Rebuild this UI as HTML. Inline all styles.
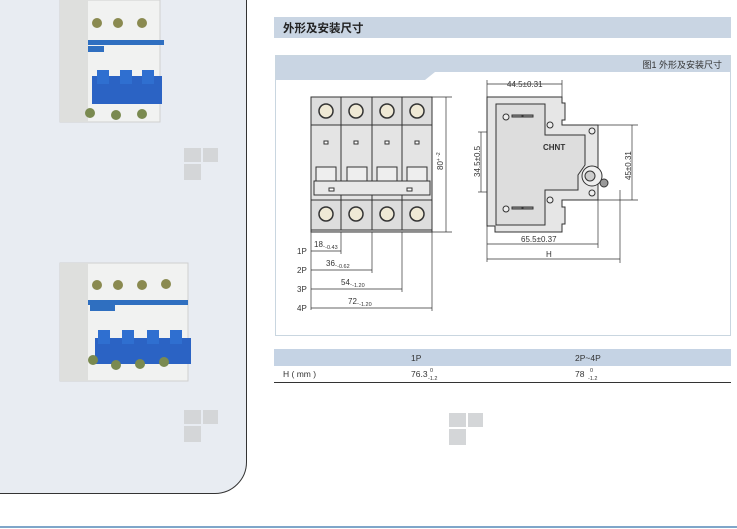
<!DOCTYPE html>
<html><head><meta charset="utf-8"><style>
body{margin:0;width:737px;height:529px;background:#fff;overflow:hidden;position:relative;font-family:"Liberation Sans","Noto Sans CJK SC",sans-serif;}
.abs{position:absolute}
</style></head><body>
<div class="abs" style="left:-2px;top:-2px;width:247px;height:494px;background:#e8ecf2;border:1px solid #333;border-bottom-right-radius:32px;"></div>
<div class="abs" style="left:0;top:526px;width:737px;height:2px;background:#7fa6c9"></div>

<svg class="abs" style="left:0;top:0" width="737" height="529" viewBox="0 0 737 529">
<!-- product 3P -->
<g>
<rect x="60" y="0" width="100" height="122" fill="#f1f2f1" stroke="#d0d0d0"/>
<rect x="60" y="0" width="28" height="122" fill="#dedfdd"/>
<circle cx="97" cy="23" r="5" fill="#8a8a50"/><circle cx="118" cy="23" r="5" fill="#8a8a50"/><circle cx="142" cy="23" r="5" fill="#8a8a50"/>
<rect x="88" y="40" width="76" height="5" fill="#2f6fc0"/>
<rect x="88" y="46" width="16" height="6" fill="#2f6fc0"/>
<rect x="92" y="76" width="70" height="28" fill="#2b63c4"/>
<rect x="97" y="70" width="12" height="14" fill="#2f6fd0"/><rect x="120" y="70" width="12" height="14" fill="#2f6fd0"/><rect x="142" y="70" width="12" height="14" fill="#2f6fd0"/>
<circle cx="90" cy="113" r="5" fill="#7a8a50"/><circle cx="116" cy="115" r="5" fill="#7a8a50"/><circle cx="142" cy="114" r="5" fill="#7a8a50"/>
</g>
<!-- product 4P -->
<g>
<rect x="60" y="263" width="128" height="118" fill="#f1f2f1" stroke="#d0d0d0"/>
<rect x="60" y="263" width="28" height="118" fill="#dedfdd"/>
<circle cx="97" cy="285" r="5" fill="#8a8a50"/><circle cx="118" cy="285" r="5" fill="#8a8a50"/><circle cx="142" cy="285" r="5" fill="#8a8a50"/><circle cx="166" cy="284" r="5" fill="#8a8a50"/>
<rect x="88" y="300" width="100" height="5" fill="#2f6fc0"/>
<rect x="90" y="305" width="25" height="6" fill="#2f6fc0"/>
<rect x="95" y="338" width="96" height="26" fill="#2b63c4"/>
<rect x="98" y="330" width="12" height="14" fill="#2f6fd0"/><rect x="122" y="330" width="12" height="14" fill="#2f6fd0"/><rect x="147" y="330" width="12" height="14" fill="#2f6fd0"/><rect x="170" y="330" width="12" height="14" fill="#2f6fd0"/>
<circle cx="93" cy="360" r="5" fill="#7a8a50"/><circle cx="116" cy="365" r="5" fill="#7a8a50"/><circle cx="140" cy="364" r="5" fill="#7a8a50"/><circle cx="164" cy="362" r="5" fill="#7a8a50"/>
</g>
<!-- watermark squares -->
<g fill="#d4d6d8">
<rect x="184" y="148" width="17" height="14"/><rect x="203" y="148" width="15" height="14"/><rect x="184" y="164" width="17" height="16"/>
<rect x="184" y="410" width="17" height="14"/><rect x="203" y="410" width="15" height="14"/><rect x="184" y="426" width="17" height="16"/>
<rect x="448" y="148" width="17" height="14"/><rect x="467" y="148" width="15" height="14"/><rect x="448" y="164" width="17" height="16"/>
<rect x="449" y="413" width="17" height="14"/><rect x="468" y="413" width="15" height="14"/><rect x="449" y="429" width="17" height="16"/>
</g>

<!-- header -->
<rect x="274" y="17" width="457" height="21" fill="#c9d5e3"/>
<text x="283" y="32" font-size="11.5" font-weight="bold" fill="#222">外形及安装尺寸</text>
<!-- figure box -->
<rect x="275.5" y="55.5" width="455" height="280" fill="#fff" stroke="#c9d6e0"/>
<polygon points="276,56 730,56 730,72 435,72 425,80 276,80" fill="#c9d5e3"/>
<text x="722" y="68" font-size="9" fill="#333" text-anchor="end">图1  外形及安装尺寸</text>

<!-- front view -->
<g stroke="#333" stroke-width="1" fill="#e4e4e4">
<rect x="311" y="97" width="121" height="135"/>
<g fill="#ddd">
<rect x="311" y="97" width="30" height="28"/><rect x="341" y="97" width="31" height="28"/><rect x="372" y="97" width="30" height="28"/><rect x="402" y="97" width="30" height="28"/>
<rect x="311" y="200" width="30" height="30"/><rect x="341" y="200" width="31" height="30"/><rect x="372" y="200" width="30" height="30"/><rect x="402" y="200" width="30" height="30"/>
</g>
<line x1="341" y1="125" x2="341" y2="200"/><line x1="372" y1="125" x2="372" y2="200"/><line x1="402" y1="125" x2="402" y2="200"/>
<g fill="#efe9d5" stroke-width="1.5">
<circle cx="326" cy="111" r="7"/><circle cx="356" cy="111" r="7"/><circle cx="387" cy="111" r="7"/><circle cx="417" cy="111" r="7"/>
<circle cx="326" cy="214" r="7"/><circle cx="356" cy="214" r="7"/><circle cx="387" cy="214" r="7"/><circle cx="417" cy="214" r="7"/>
</g>
<g fill="#fff"><rect x="324" y="141" width="4" height="3"/><rect x="354" y="141" width="4" height="3"/><rect x="385" y="141" width="4" height="3"/><rect x="415" y="141" width="4" height="3"/></g>
<g fill="#eee"><rect x="316" y="167" width="20" height="14"/><rect x="347" y="167" width="20" height="14"/><rect x="377" y="167" width="20" height="14"/><rect x="407" y="167" width="20" height="14"/></g>
<rect x="314" y="181" width="116" height="14" fill="#e8e8e8"/>
<rect x="329" y="188" width="5" height="3" fill="#fff"/><rect x="407" y="188" width="5" height="3" fill="#fff"/>
</g>
<g stroke="#333" stroke-width="0.7" fill="none">
<line x1="432" y1="97" x2="452" y2="97"/><line x1="432" y1="232" x2="452" y2="232"/><line x1="446" y1="97" x2="446" y2="232"/>
<line x1="311" y1="232" x2="311" y2="310"/><line x1="341" y1="232" x2="341" y2="254"/><line x1="372" y1="232" x2="372" y2="273"/><line x1="402" y1="232" x2="402" y2="292"/><line x1="432" y1="232" x2="432" y2="311"/>
<line x1="311" y1="251" x2="341" y2="251"/><line x1="311" y1="270" x2="372" y2="270"/><line x1="311" y1="289" x2="402" y2="289"/><line x1="311" y1="308" x2="432" y2="308"/>
</g>
<g font-size="8" fill="#333">
<text x="297" y="254">1P</text><text x="297" y="273">2P</text><text x="297" y="292">3P</text><text x="297" y="311">4P</text>
<text x="314" y="247">18.<tspan font-size="5.5" dy="2">-0.43</tspan></text>
<text x="326" y="266">36.<tspan font-size="5.5" dy="2">-0.62</tspan></text>
<text x="341" y="285">54.<tspan font-size="5.5" dy="2">-1.20</tspan></text>
<text x="348" y="304">72.<tspan font-size="5.5" dy="2">-1.20</tspan></text>
<text transform="translate(443,170) rotate(-90)">80<tspan font-size="5" dy="-3">+ -2</tspan></text>
</g>

<!-- side view -->
<g stroke="#333" stroke-width="1" fill="#e6e6e6">
<path d="M487,97 L562,97 L562,103 L565,103 L565,120 L562,120 L562,125 L598,125 L598,200 L562,200 L562,207 L565,207 L565,224 L562,224 L562,232 L495,232 L495,226 L487,226 Z"/>
<path d="M496,104 L545,104 L545,135 L585,135 L585,165 L578,175 L578,190 L545,190 L545,225 L496,225 Z" fill="#ddd"/>
<circle cx="592" cy="176" r="10" fill="#eee"/><circle cx="590" cy="176" r="5" fill="#ccc"/>
<circle cx="604" cy="183" r="4" fill="#999"/>
<circle cx="506" cy="117" r="3" fill="#eee"/><circle cx="506" cy="209" r="3" fill="#eee"/>
<circle cx="550" cy="125" r="3" fill="#eee"/><circle cx="550" cy="200" r="3" fill="#eee"/>
<circle cx="592" cy="131" r="3" fill="#eee"/><circle cx="592" cy="193" r="3" fill="#eee"/>
<rect x="512" y="115" width="10" height="2" fill="#999"/><rect x="523" y="115" width="10" height="2" fill="#999"/>
<rect x="512" y="207" width="10" height="2" fill="#999"/><rect x="523" y="207" width="10" height="2" fill="#999"/>
</g>
<text x="543" y="150" font-size="8" font-weight="bold" fill="#333">CHNT</text>
<g stroke="#333" stroke-width="0.7" fill="none">
<line x1="487" y1="80" x2="487" y2="262"/><line x1="562" y1="80" x2="562" y2="97"/><line x1="487" y1="84" x2="562" y2="84"/>
<line x1="598" y1="125" x2="638" y2="125"/><line x1="598" y1="200" x2="638" y2="200"/><line x1="632" y1="125" x2="632" y2="200"/>
<line x1="478" y1="132" x2="487" y2="132"/><line x1="478" y1="192" x2="487" y2="192"/><line x1="481" y1="132" x2="481" y2="192"/>
<line x1="598" y1="200" x2="598" y2="248"/><line x1="487" y1="244" x2="598" y2="244"/>
<line x1="620" y1="190" x2="620" y2="263"/><line x1="487" y1="259" x2="620" y2="259"/>
</g>
<g font-size="8" fill="#333">
<text x="507" y="87">44.5±0.31</text>
<text x="521" y="242">65.5±0.37</text>
<text x="546" y="257">H</text>
<text transform="translate(631,180) rotate(-90)">45±0.31</text>
<text transform="translate(480,177) rotate(-90)">34.5±0.5</text>
</g>

<!-- table -->
<rect x="274" y="349" width="457" height="17" fill="#c5d3e4"/>
<line x1="274" y1="382.5" x2="731" y2="382.5" stroke="#333" stroke-width="1"/>
<g font-size="8.5" fill="#333">
<text x="411" y="361">1P</text><text x="575" y="361">2P~4P</text>
<text x="283" y="377">H ( mm )</text>
<text x="411" y="377">76.3</text><text x="430" y="372" font-size="5.5">0</text><text x="428" y="380" font-size="5.5">-1.2</text>
<text x="575" y="377">78</text><text x="590" y="372" font-size="5.5">0</text><text x="588" y="380" font-size="5.5">-1.2</text>
</g>
</svg>
</body></html>
